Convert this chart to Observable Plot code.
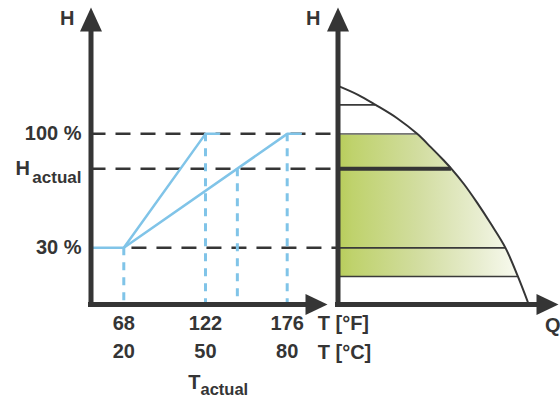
<!DOCTYPE html>
<html>
<head>
<meta charset="utf-8">
<script src="https://cdn.jsdelivr.net/npm/d3@7"></script>
<script src="https://cdn.jsdelivr.net/npm/@observablehq/plot@0.6"></script>
<style>
  html, body { margin: 0; padding: 0; background: white; }
  #chart { position: relative; width: 560px; height: 400px; }
  #chart svg { position: absolute; left: 0; top: 0; }
</style>
</head>
<body>
<div id="chart"></div>
<script>
// ---------- data ----------
const tempsC = [20, 50, 80];
const tempsF = [68, 122, 176];
const hTickValues = [100, 30];
const hTickLabels = ["100 %", "30 %"];
const hMin = 30, hMax = 100;
const hActual = 78.5;      // H actual (%)
const tActual = 61.7;      // T actual (°C)

// axis extents (scale domains)
const tAxis = [7.96, 94.8];    // °C
const hAxis = [-4.8, 177.6];   // %
const qAxis = [0, 115.6];      // % flow
const tRightAxis = 98.6;       // where the right panel's H axis sits, in °C

// control curves (T °C, H %)
const steepT = [7.96, 20, 50, 55];
const steepH = [30, 30, 100, 100];
const flatT = [20, 80, 85];
const flatH = [30, 100, 100];

// drop lines to the T axis
const dropT = [20, 50, tActual, 80];
const dropH = [30, 100, hActual, 100];

// pump curve (Q %, H %)
const pumpQ = [0, 10.5, 19.7, 31.0, 41.5, 48.5, 55.5, 59.5, 66.0, 73.0, 79.9, 87.8, 94.3, 100];
const pumpH = [129.5, 124.0, 117.8, 109.6, 100, 92.0, 83.6, 78.5, 69.2, 57.6, 45.2, 30, 12.4, -4.8];

// horizontal lines in the pump panel
const levelH = [117.8, 100, 30, 12.4];
const levelQ = [19.7, 41.5, 87.8, 94.3];
const levelColor = ["#3a3a3a", "#777777", "#3a3a3a", "#3a3a3a"];
const actualQ = 59.5;
const bandTop = 100, bandBottom = 12.4;

// ---------- styles ----------
const ink = "#353535";
const blue = "#80c4e8";
const font = '"Liberation Sans", Arial, Helvetica, sans-serif';

const arrowUp = { draw(c) { c.moveTo(0, 0); c.lineTo(11, 24); c.lineTo(-11, 24); c.closePath(); } };
const arrowRight = { draw(c) { c.moveTo(0, 0); c.lineTo(-22, 10.5); c.lineTo(-22, -10.5); c.closePath(); } };

const txt = (opts) => ({ fill: ink, fontFamily: font, fontWeight: "bold", fontSize: 20, ...opts });

// ---------- tables ----------
const steep = steepT.map((t, i) => ({ T: t, H: steepH[i] }));
const flat = flatT.map((t, i) => ({ T: t, H: flatH[i] }));
const drops = dropT.map((t, i) => ({ T: t, H: dropH[i] }));
const guides = [
  { H: hMax, from: tAxis[0] },
  { H: hActual, from: tAxis[0] },
  { H: hMin, from: 23 }
];
const pump = pumpQ.map((q, i) => ({ Q: q, H: pumpH[i] }));
const band = pump.filter(d => d.H <= bandTop && d.H >= bandBottom);
const levels = levelH.map((h, i) => ({ H: h, Q: levelQ[i], c: levelColor[i] }));

// ---------- left panel: H vs T ----------
const left = Plot.plot({
  width: 560, height: 400,
  marginLeft: 90.5, marginRight: 233, marginTop: 7, marginBottom: 96,
  x: { domain: tAxis, axis: null },
  y: { domain: hAxis, axis: null },
  style: { background: "transparent", overflow: "visible", fontFamily: font },
  marks: [
    Plot.ruleY(guides, { y: "H", x1: "from", x2: () => tRightAxis, stroke: ink, strokeWidth: 2.5, strokeDasharray: "15,10" }),
    Plot.ruleX(drops, { x: "T", y1: "H", y2: () => hAxis[0], stroke: blue, strokeWidth: 3, strokeDasharray: "8,7" }),
    Plot.line(steep, { x: "T", y: "H", stroke: blue, strokeWidth: 2.5 }),
    Plot.line(flat, { x: "T", y: "H", stroke: blue, strokeWidth: 2.5 }),
    // axes
    Plot.ruleX([tAxis[0]], { x: d => d, y1: () => hAxis[0], y2: () => hAxis[1] - 10, stroke: ink, strokeWidth: 5, strokeLinecap: "square" }),
    Plot.ruleY([hAxis[0]], { y: d => d, x1: () => tAxis[0], x2: () => tAxis[1] - 5, stroke: ink, strokeWidth: 5, strokeLinecap: "square" }),
    Plot.dot([0], { x: () => tAxis[0], y: () => hAxis[1], symbol: arrowUp, fill: ink, stroke: "none" }),
    Plot.dot([0], { x: () => tAxis[1], y: () => hAxis[0], symbol: arrowRight, fill: ink, stroke: "none" }),
    // y labels
    Plot.text(hTickValues, txt({ x: () => tAxis[0], y: d => d, text: (d, i) => hTickLabels[i], textAnchor: "end", dx: -9.5 })),
    Plot.text([hActual], txt({ x: () => tAxis[0], y: d => d, text: () => "actual", textAnchor: "end", dx: -9.5, dy: 9, fontSize: 17 })),
    Plot.text([hActual], txt({ x: () => tAxis[0], y: d => d, text: () => "H", textAnchor: "end", dx: -61, dy: 0 })),
    Plot.text(["H"], txt({ x: () => tAxis[0], y: () => hAxis[1], text: d => d, textAnchor: "end", dx: -16.5, dy: 11 })),
    // x labels
    Plot.text(tempsC, txt({ x: d => d, y: () => hAxis[0], text: (d, i) => String(tempsF[i]), dy: 19 })),
    Plot.text(tempsC, txt({ x: d => d, y: () => hAxis[0], text: d => String(d), dy: 47 })),
    Plot.text(["T [°F]"], txt({ x: () => tempsC[2], y: () => hAxis[0], text: d => d, textAnchor: "start", dx: 30.5, dy: 19 })),
    Plot.text(["T [°C]"], txt({ x: () => tempsC[2], y: () => hAxis[0], text: d => d, textAnchor: "start", dx: 30.5, dy: 48 })),
    Plot.text(["T"], txt({ x: () => tempsC[1], y: () => hAxis[0], text: d => d, textAnchor: "end", dx: -5, dy: 78 })),
    Plot.text(["actual"], txt({ x: () => tempsC[1], y: () => hAxis[0], text: d => d, textAnchor: "start", dx: -5, dy: 85, fontSize: 16.5 }))
  ]
});

// ---------- right panel: H vs Q ----------
const right = Plot.plot({
  width: 560, height: 400,
  marginLeft: 337.5, marginRight: 2, marginTop: 7, marginBottom: 96,
  x: { domain: qAxis, axis: null },
  y: { domain: hAxis, axis: null },
  style: { background: "transparent", overflow: "visible", fontFamily: font },
  marks: [
    Plot.areaX(band, { x: "Q", y: "H", fill: "url(#greenFade)", curve: "catmull-rom" }),
    Plot.ruleY(levels, { y: "H", x1: () => 0, x2: "Q", stroke: "c", strokeWidth: 1.6 }),
    Plot.ruleY([hActual], { y: d => d, x1: () => 0, x2: () => actualQ, stroke: ink, strokeWidth: 4 }),
    Plot.line(pump, { x: "Q", y: "H", stroke: ink, strokeWidth: 2, curve: "catmull-rom" }),
    Plot.ruleX([qAxis[0]], { x: d => d, y1: () => hAxis[0], y2: () => hAxis[1] - 10, stroke: ink, strokeWidth: 5, strokeLinecap: "square" }),
    Plot.ruleY([hAxis[0]], { y: d => d, x1: () => qAxis[0], x2: () => qAxis[1] - 7, stroke: ink, strokeWidth: 5, strokeLinecap: "square" }),
    Plot.dot([0], { x: () => qAxis[0], y: () => hAxis[1], symbol: arrowUp, fill: ink, stroke: "none" }),
    Plot.dot([0], { x: () => qAxis[1], y: () => hAxis[0], symbol: arrowRight, fill: ink, stroke: "none" }),
    Plot.text(["H"], txt({ x: () => qAxis[0], y: () => hAxis[1], text: d => d, textAnchor: "end", dx: -17.5, dy: 11 })),
    Plot.text(["Q"], txt({ x: () => qAxis[1], y: () => hAxis[0], text: d => d, textAnchor: "end", dx: 2, dy: 21 }))
  ]
});

// gradient for the shaded band
const xs = right.scale("x");
const defs = d3.select(right).insert("defs", ":first-child");
const grad = defs.append("linearGradient")
  .attr("id", "greenFade")
  .attr("gradientUnits", "userSpaceOnUse")
  .attr("x1", xs.apply(0)).attr("x2", xs.apply(levelQ[3]))
  .attr("y1", 0).attr("y2", 0);
[[0, "#b7cc5a"], [0.08, "#bfd26c"], [0.45, "#d2dda0"], [0.8, "#e9eed2"], [1, "#f8faef"]]
  .forEach(([o, c]) => grad.append("stop").attr("offset", o).attr("stop-color", c));

const chart = document.getElementById("chart");
chart.appendChild(left);
chart.appendChild(right);
</script>
</body>
</html>
